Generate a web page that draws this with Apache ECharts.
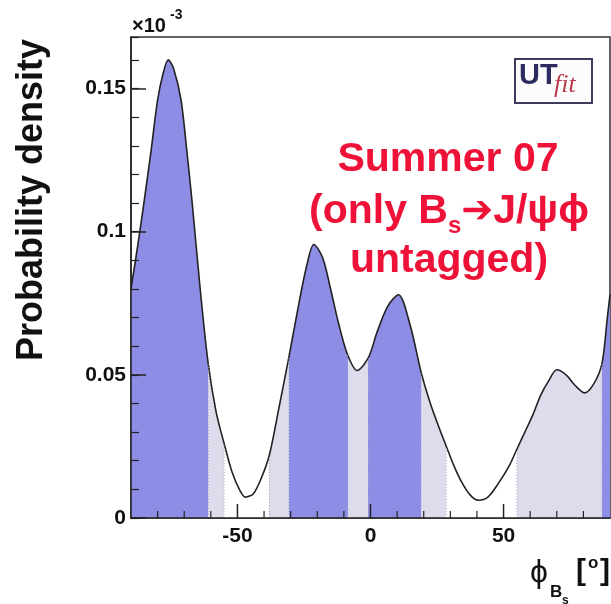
<!DOCTYPE html>
<html><head><meta charset="utf-8">
<script src="https://cdn.jsdelivr.net/npm/echarts@6/dist/echarts.min.js"></script>
<style>html,body{margin:0;padding:0;background:#fff}#c{width:611px;height:604px}</style>
</head><body><div id="c"></div>
<script>
// ---- data ----
const phi = [-90,-87.5,-85,-82.5,-80,-78,-76,-74,-71.2,-69,-67,-64,-61,-58,-55,-52,-49,-47,-44,-41,-38,-34.5,-30.7,-27.5,-24,-21.3,-18,-15,-12,-8.6,-5,-0.8,2.5,6.5,10.5,15,19,22.5,26,28.5,31,34,37.5,40.5,44,48,52,55,58,61,64,67,70,73.5,77,80.5,84,87,89,90];
const density = [0.080,0.095,0.111,0.128,0.146,0.155,0.160,0.157,0.146,0.128,0.110,0.080,0.054,0.037,0.026,0.016,0.0095,0.0073,0.0085,0.014,0.022,0.038,0.056,0.072,0.088,0.0955,0.091,0.080,0.068,0.057,0.0515,0.056,0.065,0.074,0.078,0.067,0.051,0.040,0.031,0.025,0.019,0.013,0.008,0.0062,0.0072,0.012,0.018,0.024,0.030,0.036,0.043,0.048,0.0518,0.050,0.0462,0.0437,0.047,0.054,0.070,0.078];
const regionEdges = [-90,-61,-55,-38,-30.7,-8.6,-0.8,19,28.5,55,87,90];
const regionKinds = ['68','95','out','95','68','95','68','95','out','95','68'];
const xTickValues = [-50,0,50];
const xTickLabels = ['-50','0','50'];
const xMinorTickValues = [-80,-70,-60,-40,-30,-20,-10,10,20,30,40,60,70,80];
const yTickValues = [0,0.05,0.1,0.15];
const yTickLabels = ['0','0.05','0.1','0.15'];
const xMin = -90, xMax = 90, yMin = 0, yMax = 0.168;

const kindColor = {'68':'#8d8de6','95':'#dcdcec','out':'#ffffff'};
const FONT = "'Liberation Sans', 'DejaVu Sans', Arial, sans-serif";
const RED = '#ee1138';

const chart = echarts.init(document.getElementById('c'), null, {renderer:'canvas'});

const pieces = regionKinds.map((k,i)=> i===regionKinds.length-1
  ? {gte: regionEdges[i], lte: regionEdges[i+1], color: kindColor[k]}
  : {gte: regionEdges[i], lt: regionEdges[i+1], color: kindColor[k]});

const curve = phi.map((p,i)=>[p, density[i]]);

const series = [{
  type:'line', data: curve, smooth: 0.3, showSymbol:false, symbol:'none',
  xAxisIndex:0, yAxisIndex:0,
  lineStyle:{color:'#222', width:1.6},
  areaStyle:{opacity:1}, z:3, silent:true
}];
regionEdges.slice(1,-1).forEach(b=>{
  const idx = phi.indexOf(b);
  series.push({type:'line', xAxisIndex:0, yAxisIndex:0, symbol:'none', silent:true, z:4,
    data:[[b,0],[b,density[idx]]],
    lineStyle:{color:'#a4a4c8', width:1, type:[1,2]}});
});
// x-axis inner ticks, placed through the x scale
series.push({type:'custom', xAxisIndex:0, yAxisIndex:0, silent:true, z:10, zlevel:1, clip:false,
  data: xTickValues.map(v=>[v,0,14]).concat(xMinorTickValues.map(v=>[v,0,7])),
  renderItem:(params, api)=>{
    const p = api.coord([api.value(0), api.value(1)]);
    const len = api.value(2);
    return {type:'line', shape:{x1:p[0], y1:p[1], x2:p[0], y2:p[1]-len},
      style:{stroke:'#222', lineWidth: len>10?1.5:1.2}};
  }});

const mctx = document.createElement('canvas').getContext('2d');
function measure(text, font){ mctx.font = font; return mctx.measureText(text).width; }
function runLine(runs, cx, baseline){
  let total = 0;
  runs.forEach(r=>{ r.w = measure(r.t, r.font); total += r.w; });
  let x = cx - total/2;
  const els = [];
  runs.forEach(r=>{
    const size = r.size;
    els.push({type:'text', x: x, y: baseline + (r.dy||0) - 0.31*size, z:20, silent:true,
      style:{text:r.t, font:r.font, fill:r.fill||RED, textAlign:'left', textVerticalAlign:'middle'}});
    x += r.w;
  });
  return els;
}
const big = 'bold 41px ' + FONT, sub = 'bold 24px ' + FONT;
let graphics = [];
graphics = graphics.concat(runLine([{t:'Summer 07', font:big, size:41}], 448, 172));
graphics = graphics.concat(runLine([
  {t:'(only B', font:big, size:41},
  {t:'s', font:sub, size:24, dy:10},
  {t:'\u2794', font:"bold 38px 'DejaVu Sans', sans-serif", size:38},
  {t:'J/\u03C8\u03D5', font:big, size:41}
], 449, 224));
graphics = graphics.concat(runLine([{t:'untagged)', font:big, size:41}], 449, 273));

graphics.push({type:'text', x:32, y:200, rotation:Math.PI/2, silent:true,
  style:{text:'Probability density', font:'bold 36px '+FONT, fill:'#111', textAlign:'center', textVerticalAlign:'middle'}});
graphics.push({type:'text', x:132, y:26, silent:true, style:{text:'\u00D710', font:'bold 20px '+FONT, fill:'#111', textAlign:'left', textVerticalAlign:'middle'}});
graphics.push({type:'text', x:170, y:15, silent:true, style:{text:'-3', font:'bold 14px '+FONT, fill:'#111', textAlign:'left', textVerticalAlign:'middle'}});
graphics.push({type:'text', x:530, y:573, silent:true, style:{text:'\u03D5', font:'32px '+FONT, fill:'#111', textAlign:'left', textVerticalAlign:'middle'}});
graphics.push({type:'text', x:550, y:592, silent:true, style:{text:'B', font:'bold 17px '+FONT, fill:'#111', textAlign:'left', textVerticalAlign:'middle'}});
graphics.push({type:'text', x:562, y:601, silent:true, style:{text:'s', font:'bold 12px '+FONT, fill:'#111', textAlign:'left', textVerticalAlign:'middle'}});
graphics.push({type:'text', x:576, y:572, silent:true, style:{text:'[', font:'bold 30px '+FONT, fill:'#111', textAlign:'left', textVerticalAlign:'middle'}});
graphics.push({type:'text', x:588, y:563, silent:true, style:{text:'o', font:'bold 17px '+FONT, fill:'#111', textAlign:'left', textVerticalAlign:'middle'}});
graphics.push({type:'text', x:600, y:572, silent:true, style:{text:']', font:'bold 30px '+FONT, fill:'#111', textAlign:'left', textVerticalAlign:'middle'}});
graphics.push({type:'rect', shape:{x:515, y:59, width:77, height:44}, silent:true, z:10,
  style:{fill:'#fcfcfc', stroke:'#3c3c5c', lineWidth:2}});
graphics.push({type:'text', x:519, y:76, z:11, silent:true, style:{text:'UT', font:'bold 29px '+FONT, fill:'#2b2b5e', textAlign:'left', textVerticalAlign:'middle'}});
graphics.push({type:'text', x:554, y:85, z:11, silent:true, style:{text:'fit', font:"italic 26px 'Liberation Serif', serif", fill:'#b83a4c', textAlign:'left', textVerticalAlign:'middle'}});

const labelFont = {fontFamily: FONT, fontWeight:'bold', fontSize:21, color:'#111'};

chart.setOption({
  animation:false,
  backgroundColor:'#ffffff',
  grid:{left:131, right:1, top:37, bottom:86, show:true, borderColor:'#333', borderWidth:1.5, backgroundColor:'transparent'},
  visualMap:{show:false, type:'piecewise', dimension:0, seriesIndex:0, pieces: pieces},
  xAxis:[
    {type:'value', min:xMin, max:xMax, interval:10, position:'bottom', zlevel:1, z:10,
     axisLine:{show:true, onZero:false, lineStyle:{color:'#222', width:1.5}}, axisTick:{show:false},
     axisLabel:{show:false}, splitLine:{show:false}},
    {type:'value', min:xMin, max:xMax, position:'bottom', zlevel:1, z:10,
     axisLine:{show:false, onZero:false}, axisTick:{show:false},
     axisLabel:Object.assign({customValues:xTickValues, margin:8,
       formatter:v=>{const i=xTickValues.indexOf(v); return i>=0?xTickLabels[i]:'';}}, labelFont),
     splitLine:{show:false}}
  ],
  yAxis:[
    {type:'value', min:yMin, max:yMax, interval:0.01, position:'left', zlevel:1, z:10,
     axisLine:{show:true, onZero:false, lineStyle:{color:'#222', width:1.5}}, axisTick:{show:true, inside:true, length:8, lineStyle:{color:'#222', width:1.2}},
     axisLabel:{show:false}, splitLine:{show:false}},
    {type:'value', min:yMin, max:yMax, position:'left', zlevel:1, z:10,
     axisLine:{show:false, onZero:false}, axisTick:{show:true, inside:true, length:15, customValues:yTickValues, lineStyle:{color:'#222', width:1.5}},
     axisLabel:Object.assign({customValues:yTickValues, margin:5,
       formatter:v=>{const i=yTickValues.indexOf(v); return i>=0?yTickLabels[i]:'';}}, labelFont),
     splitLine:{show:false}}
  ],
  series: series,
  graphic: graphics
});
</script></body></html>
